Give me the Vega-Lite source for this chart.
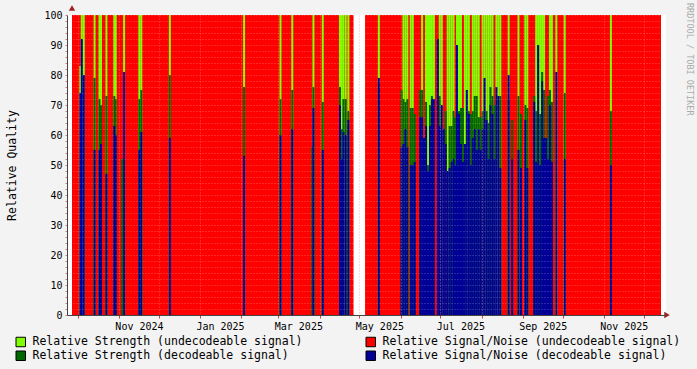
{
  "$schema": "https://vega.github.io/schema/vega-lite/v6.json",
  "width": 599,
  "height": 300,
  "autosize": {"type": "none"},
  "padding": {"left": 67, "top": 15, "right": 31, "bottom": 54},
  "background": "#f3f3f3",
  "view": {"fill": "#ffffff", "stroke": null},
  "config": {"font": "DejaVu Sans Mono", "axis": {"labelOverlap": false}},
  "title": {"text": "RRDTOOL / TOBI OETIKER", "orient": "right", "anchor": "start", "frame": "group", "fontSize": 8.5, "font": "DejaVu Sans Mono", "fontWeight": "normal", "color": "#aaaaaa", "offset": 4, "dx": -12},
  "datasets": {
    "bg": [
      {"start": "2024-09-26T16:00:00", "end": "2025-04-26T15:00:00", "snr": 100},
      {"start": "2025-05-05T07:00:00", "end": "2025-12-14T02:00:00", "snr": 100}
    ],
    "obs": [
      {"t": "2024-10-02T23:00:00", "su": 83, "sd": 0, "nd": 74},
      {"t": "2024-10-04T01:00:00", "su": 100, "sd": 0, "nd": 92},
      {"t": "2024-10-05T13:00:00", "su": 100, "sd": 0, "nd": 80},
      {"t": "2024-10-13T16:00:00", "su": 100, "sd": 79, "nd": 55},
      {"t": "2024-10-17T09:00:00", "su": 100, "sd": 72, "nd": 55},
      {"t": "2024-10-18T12:00:00", "su": 100, "sd": 70, "nd": 57},
      {"t": "2024-10-22T14:00:00", "su": 100, "sd": 73, "nd": 47},
      {"t": "2024-10-28T12:00:00", "su": 100, "sd": 73, "nd": 63},
      {"t": "2024-10-29T14:00:00", "su": 100, "sd": 72, "nd": 60},
      {"t": "2024-11-03T10:00:00", "su": 0, "sd": 52, "nd": 0},
      {"t": "2024-11-04T21:00:00", "su": 100, "sd": 0, "nd": 81},
      {"t": "2024-11-16T09:00:00", "su": 100, "sd": 72, "nd": 55},
      {"t": "2024-11-17T20:00:00", "su": 100, "sd": 75, "nd": 61},
      {"t": "2024-12-09T08:00:00", "su": 100, "sd": 80, "nd": 59},
      {"t": "2025-02-03T05:00:00", "su": 100, "sd": 76, "nd": 53},
      {"t": "2025-03-02T15:00:00", "su": 100, "sd": 72, "nd": 60},
      {"t": "2025-03-11T12:00:00", "su": 100, "sd": 75, "nd": 62},
      {"t": "2025-03-26T13:00:00", "su": 0, "sd": 56, "nd": 0},
      {"t": "2025-03-27T10:00:00", "su": 100, "sd": 76, "nd": 69},
      {"t": "2025-04-03T11:00:00", "su": 100, "sd": 71, "nd": 55},
      {"t": "2025-04-16T10:00:00", "su": 100, "sd": 76, "nd": 70},
      {"t": "2025-04-17T18:00:00", "su": 100, "sd": 62, "nd": 52},
      {"t": "2025-04-19T00:00:00", "su": 100, "sd": 72, "nd": 61},
      {"t": "2025-04-20T17:00:00", "su": 100, "sd": 72, "nd": 60},
      {"t": "2025-04-22T17:00:00", "su": 100, "sd": 68, "nd": 65},
      {"t": "2025-05-15T16:00:00", "su": 100, "sd": 77, "nd": 79},
      {"t": "2025-06-01T17:00:00", "su": 0, "sd": 75, "nd": 56},
      {"t": "2025-06-03T04:00:00", "su": 100, "sd": 72, "nd": 57},
      {"t": "2025-06-04T16:00:00", "su": 100, "sd": 71, "nd": 62},
      {"t": "2025-06-06T03:00:00", "su": 100, "sd": 72, "nd": 56},
      {"t": "2025-06-08T17:00:00", "su": 100, "sd": 69, "nd": 50},
      {"t": "2025-06-10T05:00:00", "su": 100, "sd": 69, "nd": 50},
      {"t": "2025-06-11T16:00:00", "su": 0, "sd": 67, "nd": 51},
      {"t": "2025-06-15T18:00:00", "su": 0, "sd": 75, "nd": 66},
      {"t": "2025-06-17T06:00:00", "su": 100, "sd": 75, "nd": 66},
      {"t": "2025-06-18T17:00:00", "su": 0, "sd": 0, "nd": 59},
      {"t": "2025-06-20T05:00:00", "su": 100, "sd": 71, "nd": 63},
      {"t": "2025-06-21T16:00:00", "su": 100, "sd": 50, "nd": 48},
      {"t": "2025-06-23T04:00:00", "su": 100, "sd": 70, "nd": 63},
      {"t": "2025-06-24T15:00:00", "su": 100, "sd": 73, "nd": 72},
      {"t": "2025-06-26T03:00:00", "su": 100, "sd": 0, "nd": 72},
      {"t": "2025-06-29T02:00:00", "su": 0, "sd": 0, "nd": 92},
      {"t": "2025-06-30T13:00:00", "su": 100, "sd": 73, "nd": 63},
      {"t": "2025-07-02T01:00:00", "su": 100, "sd": 0, "nd": 70},
      {"t": "2025-07-03T12:00:00", "su": 0, "sd": 0, "nd": 62},
      {"t": "2025-07-05T00:00:00", "su": 0, "sd": 68, "nd": 57},
      {"t": "2025-07-06T12:00:00", "su": 100, "sd": 0, "nd": 48},
      {"t": "2025-07-07T23:00:00", "su": 100, "sd": 63, "nd": 49},
      {"t": "2025-07-09T11:00:00", "su": 100, "sd": 63, "nd": 51},
      {"t": "2025-07-10T22:00:00", "su": 100, "sd": 68, "nd": 52},
      {"t": "2025-07-12T01:00:00", "su": 0, "sd": 66, "nd": 50},
      {"t": "2025-07-13T12:00:00", "su": 100, "sd": 0, "nd": 90},
      {"t": "2025-07-15T00:00:00", "su": 100, "sd": 68, "nd": 67},
      {"t": "2025-07-16T12:00:00", "su": 100, "sd": 69, "nd": 57},
      {"t": "2025-07-17T23:00:00", "su": 0, "sd": 69, "nd": 51},
      {"t": "2025-07-19T11:00:00", "su": 100, "sd": 0, "nd": 57},
      {"t": "2025-07-20T22:00:00", "su": 100, "sd": 0, "nd": 75},
      {"t": "2025-07-22T10:00:00", "su": 100, "sd": 68, "nd": 67},
      {"t": "2025-07-23T21:00:00", "su": 0, "sd": 67, "nd": 50},
      {"t": "2025-07-25T09:00:00", "su": 100, "sd": 68, "nd": 59},
      {"t": "2025-07-26T21:00:00", "su": 100, "sd": 73, "nd": 62},
      {"t": "2025-07-28T08:00:00", "su": 100, "sd": 73, "nd": 55},
      {"t": "2025-07-29T20:00:00", "su": 100, "sd": 66, "nd": 62},
      {"t": "2025-07-31T07:00:00", "su": 0, "sd": 66, "nd": 55},
      {"t": "2025-08-01T19:00:00", "su": 100, "sd": 68, "nd": 62},
      {"t": "2025-08-03T06:00:00", "su": 100, "sd": 0, "nd": 79},
      {"t": "2025-08-04T18:00:00", "su": 100, "sd": 68, "nd": 65},
      {"t": "2025-08-06T06:00:00", "su": 100, "sd": 64, "nd": 52},
      {"t": "2025-08-07T17:00:00", "su": 100, "sd": 76, "nd": 70},
      {"t": "2025-08-09T05:00:00", "su": 100, "sd": 73, "nd": 67},
      {"t": "2025-08-10T16:00:00", "su": 0, "sd": 70, "nd": 52},
      {"t": "2025-08-12T04:00:00", "su": 100, "sd": 0, "nd": 76},
      {"t": "2025-08-13T15:00:00", "su": 100, "sd": 0, "nd": 73},
      {"t": "2025-08-15T03:00:00", "su": 100, "sd": 73, "nd": 49},
      {"t": "2025-08-21T09:00:00", "su": 100, "sd": 72, "nd": 80},
      {"t": "2025-08-24T00:00:00", "su": 0, "sd": 65, "nd": 52},
      {"t": "2025-08-28T19:00:00", "su": 100, "sd": 73, "nd": 55},
      {"t": "2025-08-30T16:00:00", "su": 0, "sd": 67, "nd": 49},
      {"t": "2025-09-02T23:00:00", "su": 100, "sd": 70, "nd": 65},
      {"t": "2025-09-04T11:00:00", "su": 100, "sd": 69, "nd": 49},
      {"t": "2025-09-09T15:00:00", "su": 0, "sd": 73, "nd": 71},
      {"t": "2025-09-11T03:00:00", "su": 100, "sd": 68, "nd": 51},
      {"t": "2025-09-12T14:00:00", "su": 100, "sd": 0, "nd": 90},
      {"t": "2025-09-14T02:00:00", "su": 100, "sd": 67, "nd": 50},
      {"t": "2025-09-15T14:00:00", "su": 100, "sd": 81, "nd": 78},
      {"t": "2025-09-17T01:00:00", "su": 100, "sd": 75, "nd": 59},
      {"t": "2025-09-18T13:00:00", "su": 0, "sd": 0, "nd": 59},
      {"t": "2025-09-20T00:00:00", "su": 0, "sd": 73, "nd": 52},
      {"t": "2025-09-21T12:00:00", "su": 100, "sd": 75, "nd": 70},
      {"t": "2025-09-22T23:00:00", "su": 100, "sd": 71, "nd": 51},
      {"t": "2025-09-26T07:00:00", "su": 100, "sd": 0, "nd": 81},
      {"t": "2025-10-02T14:00:00", "su": 100, "sd": 74, "nd": 52},
      {"t": "2025-11-06T09:00:00", "su": 100, "sd": 68, "nd": 50}
    ]
  },
  "layer": [
    {
      "data": {"name": "bg"},
      "mark": {"type": "rect"},
      "encoding": {
        "x": {
          "field": "start", "type": "temporal",
          "scale": {"domain": [{"year": 2024, "month": "sep", "date": 26, "hours": 16}, {"year": 2025, "month": "dec", "date": 14, "hours": 2}]},
          "axis": {
            "title": null,
            "tickCount": {"interval": "month", "step": 1},
            "labelExpr": "month(datum.value) % 2 == 0 ? timeFormat(datum.value, '%b %Y') : ''",
            "labelOffset": 20,
            "labelOverlap": false,
            "labelBound": false,
            "labelFlush": false,
            "labelFont": "DejaVu Sans Mono",
            "labelFontSize": 10,
            "labelColor": "#000000",
            "labelPadding": 3,
            "ticks": true,
            "tickSize": 3,
            "tickColor": "#d04040",
            "domain": true,
            "domainColor": "#444444",
            "grid": true,
            "gridColor": "#ff8080",
            "gridOpacity": 0.6,
            "gridDash": [1, 2],
            "zindex": 1
          }
        },
        "x2": {"field": "end"},
        "y": {
          "field": "snr", "type": "quantitative",
          "scale": {"domain": [0, 100], "nice": false},
          "axis": {
            "title": "Relative Quality",
            "titleFont": "DejaVu Sans Mono",
            "titleFontSize": 11.5,
            "titleFontWeight": "normal",
            "titleColor": "#000000",
            "titleX": -55,
            "titleY": 150,
            "titleAngle": -90,
            "titleAlign": "center",
            "titleBaseline": "middle",
            "tickCount": 60,
            "values": [0,2,4,6,8,10,12,14,16,18,20,22,24,26,28,30,32,34,36,38,40,42,44,46,48,50,52,54,56,58,60,62,64,66,68,70,72,74,76,78,80,82,84,86,88,90,92,94,96,98,100],
            "labelExpr": "datum.value % 10 == 0 ? datum.label : ''",
            "labelOverlap": false,
            "labelFont": "DejaVu Sans Mono",
            "labelFontSize": 10,
            "labelColor": "#000000",
            "labelPadding": 3,
            "ticks": true,
            "tickSize": 2,
            "tickColor": "#d08080",
            "domain": true,
            "domainColor": "#444444",
            "grid": true,
            "gridColor": "#ffffff",
            "gridOpacity": 0.3,
            "gridDash": [1, 2],
            "zindex": 1
          }
        },
        "y2": {"datum": 0},
        "color": {
          "datum": "Relative Signal/Noise (undecodeable signal)",
          "type": "nominal",
          "scale": {
            "domain": ["Relative Strength (undecodeable signal)", "Relative Strength  (decodeable signal)", "Relative Signal/Noise (undecodeable signal)", "Relative Signal/Noise (decodeable signal)"],
            "range": ["#7fff00", "#006600", "#ff0000", "#000099"]
          },
          "legend": {
            "title": null,
            "orient": "none",
            "legendX": -52,
            "legendY": 321,
            "columns": 2,
            "columnPadding": 61,
            "rowPadding": 0,
            "symbolType": "square",
            "symbolSize": 90,
            "symbolStrokeColor": "#000000",
            "symbolStrokeWidth": 1,
            "symbolOpacity": 1,
            "labelFont": "DejaVu Sans Mono",
            "labelFontSize": 11.5,
            "labelColor": "#000000",
            "labelLimit": 400,
            "labelOffset": 6
          }
        }
      }
    },
    {
      "data": {"name": "obs"},
      "transform": [{"filter": "datum.su > 0"}],
      "mark": {"type": "bar", "width": 2},
      "encoding": {
        "x": {"field": "t", "type": "temporal"},
        "y": {"field": "su", "type": "quantitative", "stack": null},
        "color": {"datum": "Relative Strength (undecodeable signal)", "type": "nominal"}
      }
    },
    {
      "data": {"name": "obs"},
      "transform": [{"filter": "datum.sd > 0"}],
      "mark": {"type": "bar", "width": 2},
      "encoding": {
        "x": {"field": "t", "type": "temporal"},
        "y": {"field": "sd", "type": "quantitative", "stack": null},
        "color": {"datum": "Relative Strength  (decodeable signal)", "type": "nominal"}
      }
    },
    {
      "data": {"name": "obs"},
      "transform": [{"filter": "datum.nd > 0"}],
      "mark": {"type": "bar", "width": 2},
      "encoding": {
        "x": {"field": "t", "type": "temporal"},
        "y": {"field": "nd", "type": "quantitative", "stack": null},
        "color": {"datum": "Relative Signal/Noise (decodeable signal)", "type": "nominal"}
      }
    },
    {
      "data": {"values": [{"arrow": "y"}]},
      "mark": {"type": "point", "shape": "triangle-up", "size": 40, "filled": true, "color": "#a02020", "yOffset": -7, "clip": false, "opacity": 1},
      "encoding": {
        "x": {"datum": {"year": 2024, "month": "sep", "date": 26, "hours": 16}, "type": "temporal"},
        "y": {"datum": 100, "type": "quantitative"}
      }
    },
    {
      "data": {"values": [{"arrow": "x"}]},
      "mark": {"type": "point", "shape": "triangle-right", "size": 40, "filled": true, "color": "#a02020", "xOffset": 6, "clip": false, "opacity": 1},
      "encoding": {
        "x": {"datum": {"year": 2025, "month": "dec", "date": 14, "hours": 2}, "type": "temporal"},
        "y": {"datum": 0, "type": "quantitative"}
      }
    }
  ]
}
